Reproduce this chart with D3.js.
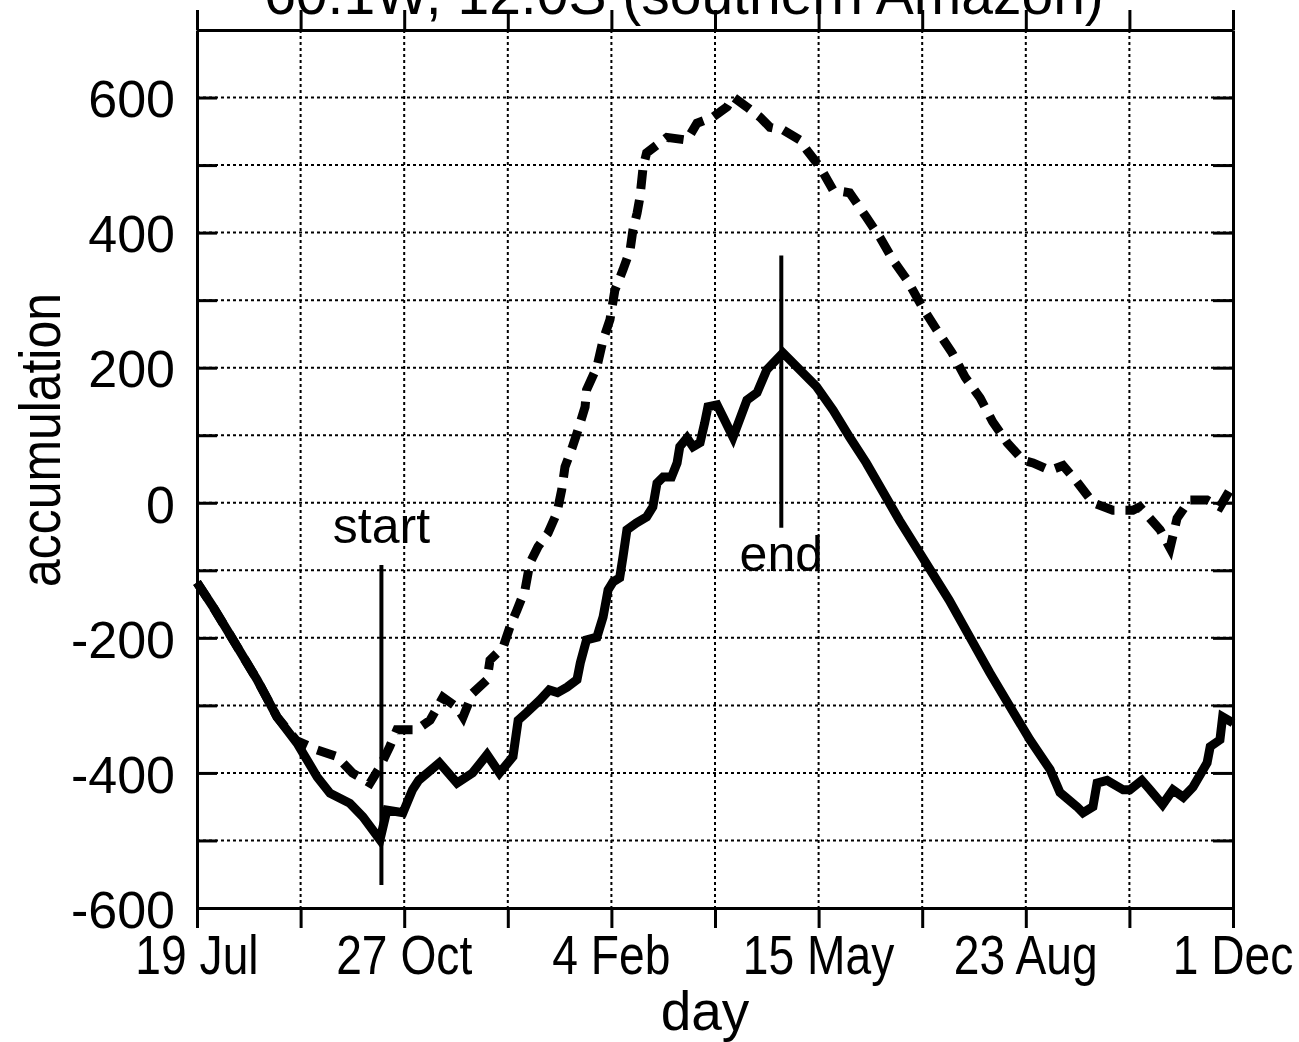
<!DOCTYPE html>
<html>
<head>
<script src="https://d3js.org/d3.v7.min.js"></script>
<style>
body { margin: 0; background: #ffffff; }
text { font-family: "Liberation Sans", Arial, sans-serif; fill: #000000; }
.axis path, .axis line { stroke: #000000; stroke-width: 3; }
.grid { stroke: #000000; stroke-width: 2; stroke-dasharray: 3,3; }
</style>
</head>
<body>
<script>

var title = "60.1W, 12.0S (southern Amazon)";
var xTickDays = [0, 100, 200, 300, 400, 500];
var xTickLabels = ["19 Jul", "27 Oct", "4 Feb", "15 May", "23 Aug", "1 Dec"];
var yTickValues = [-600, -400, -200, 0, 200, 400, 600];

// solid curve
var solidDays = [0, 7.7, 17.4, 29, 38.6, 48.3, 58, 64.2, 73.8, 80.1, 88.3, 91.7, 99.4, 104, 107, 117,
  125.5, 133, 140, 146, 152.5, 155, 159, 165.5, 170, 174, 178.6, 183.4, 185, 188, 193, 196, 198.4,
  200.8, 204, 205.6, 207.5, 212, 217, 220, 222, 225, 229, 231.7, 233, 236.5, 239.4, 242.8, 245,
  246.6, 251, 253.9, 258.7, 265.4, 270.3, 275, 282.8, 299, 307, 315, 323, 339, 363, 373, 382.7,
  392.4, 402, 411.7, 416.5, 424.7, 427.6, 432.4, 434.4, 439.2, 447, 450.3, 456, 460, 466, 471,
  476, 480.7, 487.5, 489, 493.7, 495, 500];
var solidValues = [-118, -154, -203, -262, -317, -356, -406, -430, -445, -465, -499, -455, -459, -425, -411, -385,
  -415, -400, -373, -400, -376, -322, -311, -292, -277, -281, -273, -262, -237, -203, -199, -169, -129,
  -117, -111, -80, -40, -30, -21, -6, 29, 38, 38, 59, 83, 96, 83, 89, 118,
  142, 145, 127, 97, 152, 163, 197, 222, 172, 137, 97, 59, -26, -144, -199, -252,
  -302, -351, -395, -429, -450, -459, -450, -415, -411, -425, -425, -411, -425, -447, -425,
  -436, -421, -385, -361, -351, -317, -326];

// dashed curve
var dashDays = [0, 7.7, 17.4, 29, 38.6, 48, 58, 67.6, 75, 83.5, 88.3, 93, 96.5, 106, 112.5, 118.7,
  125.5, 128.4, 133, 140, 141.4, 147.7, 151, 154.4, 158.3, 160.7, 164.6, 169.4, 173.7, 176, 177.6,
  181, 183.4, 187.3, 188, 193, 196, 199.3, 201.7, 205.6, 209, 210.4, 212.4, 213.8, 215.3, 217,
  226.8, 236.5, 241.3, 249, 255.8, 258.7, 265.4, 271.7, 276.5, 282.8, 291, 294.4, 300.7, 307, 315,
  323, 329.6, 336, 342.7, 350, 357, 364.4, 370.7, 378, 384, 391, 398.6, 403.5, 411.7, 418, 424.7,
  432.4, 442, 451.7, 455, 464.8, 469.6, 473, 479, 487.5, 493.7, 498.5, 500];
var dashValues = [-118, -154, -203, -262, -317, -352, -366, -376, -400, -415, -391, -361, -336, -336, -322, -288,
  -303, -317, -282, -262, -233, -214, -184, -159, -129, -89, -65, -45, -15, 19, 53,
  81, 103, 142, 167, 201, 241, 271, 315, 345, 374, 404, 429, 453, 497, 518,
  541, 537, 562, 571, 586, 601, 586, 571, 556, 552, 537, 522, 497, 463, 459,
  423, 393, 359, 330, 290, 256, 222, 186, 155, 120, 89, 63, 59, 48, 55, 31,
  0, -11, -11, -6, -40, -67, -23, 4, 4, -6, 19, 16];

var markerNames = ["start", "end"];
var markerDays = [89, 282];
var markerLow = [-566, -37];
var markerHigh = [-92, 366];

var margin = {top: 30, right: 66, bottom: 134, left: 197},
    width = 1299 - margin.left - margin.right,
    height = 1042 - margin.top - margin.bottom;

var x = d3.scaleLinear().domain([0, 500]).range([0, width]);
var y = d3.scaleLinear().domain([-600, 700]).range([height, 0]);

var root = d3.select("body").append("svg")
    .attr("width", 1299)
    .attr("height", 1042);

var svg = root.append("g")
    .attr("transform", "translate(" + margin.left + "," + margin.top + ")");

// title, mostly cut off at the top edge
root.append("text")
    .attr("x", 684)
    .attr("y", 14)
    .attr("text-anchor", "middle")
    .style("font-size", "57px")
    .text(title);

// dotted grid
svg.selectAll(".vgrid")
    .data(d3.range(50, 500, 50))
  .enter().append("line")
    .attr("class", "grid")
    .attr("x1", function(d) { return x(d); })
    .attr("x2", function(d) { return x(d); })
    .attr("y1", 0)
    .attr("y2", height);

svg.selectAll(".hgrid")
    .data(d3.range(-500, 700, 100))
  .enter().append("line")
    .attr("class", "grid")
    .attr("x1", 0)
    .attr("x2", width)
    .attr("y1", function(d) { return y(d); })
    .attr("y2", function(d) { return y(d); });

// axes: ticks out on top/bottom, in on left/right
svg.append("g")
    .attr("class", "axis")
    .attr("transform", "translate(0," + height + ")")
    .call(d3.axisBottom(x).tickValues(d3.range(0, 501, 50)).tickSizeInner(20).tickSizeOuter(0).tickFormat(""));

svg.append("g")
    .attr("class", "axis")
    .call(d3.axisTop(x).tickValues(d3.range(0, 501, 50)).tickSizeInner(20).tickSizeOuter(0).tickFormat(""));

svg.append("g")
    .attr("class", "axis")
    .call(d3.axisLeft(y).tickValues(d3.range(-600, 701, 100)).tickSizeInner(-20).tickSizeOuter(0).tickFormat(""));

svg.append("g")
    .attr("class", "axis")
    .attr("transform", "translate(" + width + ",0)")
    .call(d3.axisRight(y).tickValues(d3.range(-600, 701, 100)).tickSizeInner(-20).tickSizeOuter(0).tickFormat(""));

// tick labels
svg.selectAll(".ylab")
    .data(yTickValues)
  .enter().append("text")
    .attr("class", "ylab")
    .attr("x", -22)
    .attr("y", function(d) { return y(d); })
    .attr("dy", "0.38em")
    .attr("text-anchor", "end")
    .style("font-size", "52px")
    .text(function(d) { return d; });

svg.selectAll(".xlab")
    .data(xTickDays)
  .enter().append("text")
    .attr("class", "xlab")
    .attr("transform", function(d) { return "translate(" + x(d) + "," + (height + 66) + ") scale(0.84,1)"; })
    .attr("text-anchor", "middle")
    .style("font-size", "55px")
    .text(function(d, i) { return xTickLabels[i]; });

svg.append("text")
    .attr("x", width / 2 - 10)
    .attr("y", height + 122)
    .attr("text-anchor", "middle")
    .style("font-size", "55px")
    .text("day");

svg.append("text")
    .attr("transform", "translate(" + (60 - margin.left) + "," + (440 - margin.top) + ") rotate(-90) scale(0.86,1)")
    .attr("text-anchor", "middle")
    .style("font-size", "58px")
    .text("accumulation");

// curves
var line = d3.line()
    .x(function(d) { return x(d[0]); })
    .y(function(d) { return y(d[1]); });

svg.append("path")
    .datum(d3.zip(dashDays, dashValues))
    .attr("fill", "none")
    .attr("stroke", "#000000")
    .attr("stroke-width", 9)
    .attr("stroke-dasharray", "19,11")
    .attr("d", line);

svg.append("path")
    .datum(d3.zip(solidDays, solidValues))
    .attr("fill", "none")
    .attr("stroke", "#000000")
    .attr("stroke-width", 9)
    .attr("d", line);

// start / end markers
svg.selectAll(".marker")
    .data(markerDays)
  .enter().append("line")
    .attr("class", "marker")
    .attr("x1", function(d) { return x(d); })
    .attr("x2", function(d) { return x(d); })
    .attr("y1", function(d, i) { return y(markerLow[i]); })
    .attr("y2", function(d, i) { return y(markerHigh[i]); })
    .attr("stroke", "#000000")
    .attr("stroke-width", 4);

svg.selectAll(".mlab")
    .data(markerDays)
  .enter().append("text")
    .attr("class", "mlab")
    .attr("x", function(d) { return x(d); })
    .attr("y", function(d, i) { return i == 0 ? y(markerHigh[i]) - 22 : y(markerLow[i]) + 43; })
    .attr("text-anchor", "middle")
    .style("font-size", "50px")
    .text(function(d, i) { return markerNames[i]; });

</script>
</body>
</html>
